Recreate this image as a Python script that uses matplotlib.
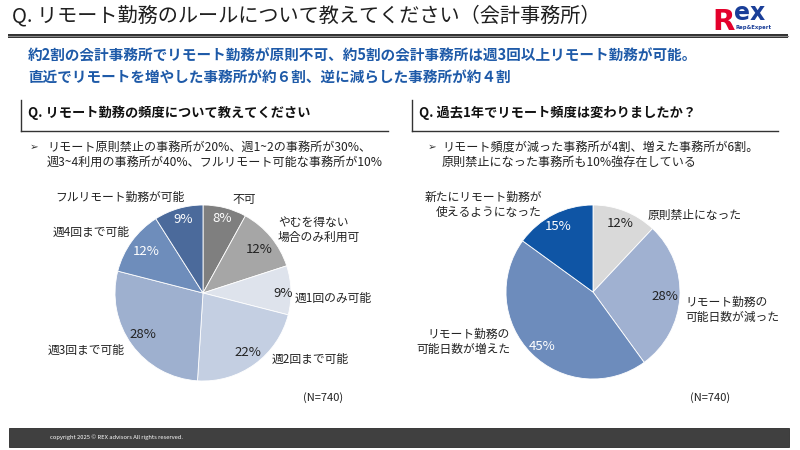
import numpy as np
import matplotlib
matplotlib.use("Agg")
import matplotlib.pyplot as plt
from matplotlib.patches import Rectangle

plt.rcParams['font.family'] = ['Noto Sans CJK JP', 'DejaVu Sans']

# -------------------------
# Data
# -------------------------
left_labels = ["不可", "やむを得ない\n場合のみ利用可", "週1回のみ可能", "週2回まで可能",
               "週3回まで可能", "週4回まで可能", "フルリモート勤務が可能"]
left_values = [8, 12, 9, 22, 28, 12, 9]
left_colors = ["#7f7f7f", "#a6a6a6", "#dee3ec", "#c4cfe2", "#9eb0cf", "#6e8dbb", "#4b6a9b"]
left_pct_colors = ["white", "#222222", "#222222", "#222222", "#222222", "white", "white"]

right_labels = ["原則禁止になった", "リモート勤務の\n可能日数が減った",
                "リモート勤務の\n可能日数が増えた", "新たにリモート勤務が\n使えるようになった"]
right_values = [12, 28, 45, 15]
right_colors = ["#d9d9d9", "#a0b1d1", "#6d8cbc", "#0f55a5"]
right_pct_colors = ["#222222", "#222222", "white", "white"]

# label layout (pixel position, alignment) for each category
left_label_pos = [(232, 200, "left"), (278, 230, "left"), (295, 298, "left"), (272, 359, "left"),
                  (48, 350, "left"), (53, 232, "left"), (55, 197, "left")]
right_label_pos = [(648, 215, "left"), (685, 310, "left"), (510, 342, "right"), (542, 205, "right")]
# (distance, angle offset) of the percentage text inside each wedge
left_pct_place = [(0.87, 0), (0.81, -2), (0.91, -2), (0.84, 1), (0.83, -1), (0.80, 0), (0.87, -1)]
right_pct_place = [(0.85, 0), (0.83, 0), (0.85, 2), (0.85, 1)]

W, H = 800, 450
fig = plt.figure(figsize=(8, 4.5), dpi=100)

bg = fig.add_axes([0, 0, 1, 1])
bg.set_xlim(0, W)
bg.set_ylim(H, 0)
bg.axis("off")

# -------------------------
# Header
# -------------------------
bg.text(12, 16, "Q. リモート勤務のルールについて教えてください（会計事務所）",
        fontsize=14.5, color="#1f1f1f", va="center", ha="left")
bg.add_patch(Rectangle((8, 33.5), 780, 4.5, color="#333333", lw=0))
bg.plot([8, 788], [35.8, 35.8], color="#8a8a8a", lw=0.8)

# logo
bg.text(712, 29.5, "R", fontsize=21, fontweight="bold", color="#e4002b",
        family="DejaVu Sans", va="baseline", ha="left")
bg.text(734, 20.5, "ex", fontsize=17, fontweight="bold", color="#1a3e98",
        family="DejaVu Sans", va="baseline", ha="left")
bg.text(735, 27, "Rep&Expert", fontsize=3.8, fontweight="bold", color="#1a3e98",
        family="DejaVu Sans", va="center", ha="left")

blue = "#1e5aa8"
bg.text(28, 55, "約2割の会計事務所でリモート勤務が原則不可、約5割の会計事務所は週3回以上リモート勤務が可能。",
        fontsize=10.5, fontweight="bold", color=blue, va="center")
bg.text(28, 78, "直近でリモートを増やした事務所が約６割、逆に減らした事務所が約４割",
        fontsize=10.5, fontweight="bold", color=blue, va="center")

# -------------------------
# Sub headers
# -------------------------
for x0, x1, q in [(21, 388, "Q. リモート勤務の頻度について教えてください"),
                  (412, 778, "Q. 過去1年でリモート頻度は変わりましたか？")]:
    bg.plot([x0, x0], [100, 131], color="#333333", lw=1.0)
    bg.plot([x0, x1], [131, 131], color="#333333", lw=1.0)
    bg.text(x0 + 7, 113, q, fontsize=9.5, fontweight="bold", color="#111111", va="center")

bullets = [(30, 47, ["リモート原則禁止の事務所が20%、週1~2の事務所が30%、",
                     "週3~4利用の事務所が40%、フルリモート可能な事務所が10%"]),
           (428, 442, ["リモート頻度が減った事務所が4割、増えた事務所が6割。",
                       "原則禁止になった事務所も10%強存在している"])]
for bx, tx, lines in bullets:
    bg.text(bx, 147, "➢", fontsize=7.5, color="#333333", va="center", family="DejaVu Sans")
    for i, line in enumerate(lines):
        bg.text(tx, 147 + 15 * i, line, fontsize=8.7, color="#222222", va="center")

# -------------------------
# Pie charts
# -------------------------
def draw_pie(cx, cy, r, values, colors, pct_colors, pct_place):
    ax = fig.add_axes([(cx - r) / W, (H - cy - r) / H, 2 * r / W, 2 * r / H])
    wedges, _ = ax.pie(values, colors=colors, startangle=90, counterclock=False,
                       wedgeprops=dict(edgecolor="white", linewidth=0.6))
    ax.set_xlim(-1, 1)
    ax.set_ylim(-1, 1)
    ax.set_aspect("equal")
    ax.axis("off")
    for w, v, c, (d, off) in zip(wedges, values, pct_colors, pct_place):
        ang = np.deg2rad((w.theta1 + w.theta2) / 2 + off)
        ax.text(d * np.cos(ang), d * np.sin(ang), f"{v}%", fontsize=9.5, color=c,
                ha="center", va="center")
    return ax

draw_pie(203, 293, 88, left_values, left_colors, left_pct_colors, left_pct_place)
draw_pie(593, 292, 87, right_values, right_colors, right_pct_colors, right_pct_place)

for labels, pos in [(left_labels, left_label_pos), (right_labels, right_label_pos)]:
    for lab, (x, y, ha) in zip(labels, pos):
        bg.text(x, y, lab, fontsize=8.5, color="#222222", ha=ha, va="center",
                multialignment=ha, linespacing=1.25)

bg.text(323, 398, "(N=740)", fontsize=8, color="#222222", ha="center", va="center")
bg.text(710, 398, "(N=740)", fontsize=8, color="#222222", ha="center", va="center")

# -------------------------
# Footer
# -------------------------
bg.add_patch(Rectangle((9, 428), 780, 19, facecolor="#404040", edgecolor="#2a2a2a", lw=0.6))
bg.text(50, 437, "copyright 2025 © REX advisors All rights reserved.", fontsize=4.2,
        color="white", va="center", ha="left")

fig.savefig("out.png", dpi=100)
